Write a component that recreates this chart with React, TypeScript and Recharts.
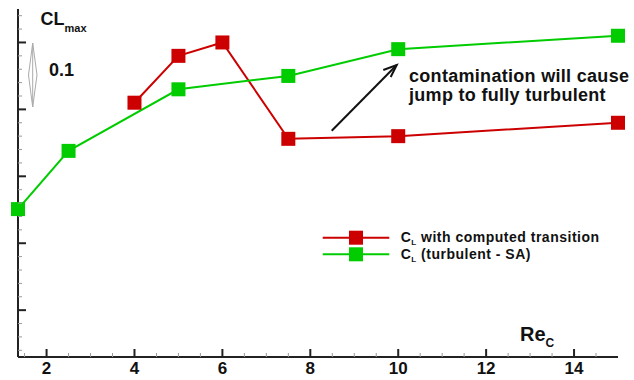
import React from "react";
import { LineChart, Line, XAxis, YAxis } from "recharts";

const transitionRe = [4, 5, 6, 7.5, 10, 15];
const transitionCl = [1.51, 1.58, 1.6, 1.456, 1.46, 1.48];
const turbulentRe = [1.35, 2.5, 5, 7.5, 10, 15];
const turbulentCl = [1.351, 1.438, 1.53, 1.55, 1.59, 1.61];

const xTicks = [
  1.5, 2, 2.5, 3, 3.5, 4, 4.5, 5, 5.5, 6, 6.5, 7, 7.5, 8, 8.5, 9, 9.5, 10,
  10.5, 11, 11.5, 12, 12.5, 13, 13.5, 14, 14.5,
];
const xLabels = [2, 4, 6, 8, 10, 12, 14];
const yTicks = [
  1.14, 1.16, 1.18, 1.2, 1.22, 1.24, 1.26, 1.28, 1.3, 1.32, 1.34, 1.36, 1.38,
  1.4, 1.42, 1.44, 1.46, 1.48, 1.5, 1.52, 1.54, 1.56, 1.58, 1.6, 1.62, 1.64,
];
const yMajor = [1.2, 1.3, 1.4, 1.5, 1.6];

const RED = "#cc0000";
const GREEN = "#00cc00";
const AXIS = "#222";
const FONT = "'Liberation Sans', Arial, sans-serif";

const transitionData = transitionRe.map((re, i) => ({ re, cl: transitionCl[i] }));
const turbulentData = turbulentRe.map((re, i) => ({ re, cl: turbulentCl[i] }));

function isMajor(list: number[], v: number) {
  return list.some((m) => Math.abs(m - v) < 1e-6);
}

function XTick(props: any) {
  const { x, y, payload } = props;
  const major = isMajor(xLabels, payload.value);
  return (
    <g>
      <line
        x1={x}
        x2={x}
        y1={y}
        y2={y - (major ? 8 : 4)}
        stroke={major ? AXIS : "#999"}
        strokeWidth={major ? 2 : 1}
      />
      {major && (
        <text
          x={x}
          y={y + 16.5}
          textAnchor="middle"
          fontFamily={FONT}
          fontWeight={700}
          fontSize={17}
          fill="#111"
        >
          {payload.value}
        </text>
      )}
    </g>
  );
}

function YTick(props: any) {
  const { x, y, payload } = props;
  const major = isMajor(yMajor, payload.value);
  return (
    <line
      x1={x}
      x2={x + (major ? 8 : 4)}
      y1={y}
      y2={y}
      stroke={major ? AXIS : "#999"}
      strokeWidth={major ? 2 : 1}
    />
  );
}

function squareDot(color: string) {
  return (p: any) => (
    <rect
      key={`${color}-${p.index}`}
      x={p.cx - 7}
      y={p.cy - 7}
      width={14}
      height={14}
      fill={color}
    />
  );
}

function Overlay() {
  return (
    <svg
      width={634}
      height={380}
      style={{ position: "absolute", left: 0, top: 0, pointerEvents: "none" }}
      fontFamily={FONT}
      fontWeight={700}
    >
      <text x={40.5} y={25} fontSize={18} fill="#111">
        CL<tspan fontSize={11} dy={7}>max</tspan>
      </text>
      <text x={49} y={76} fontSize={18} fill="#111">
        0.1
      </text>
      <g stroke="#aaa" strokeWidth={1} fill="none">
        <line x1={32.7} y1={43} x2={32.7} y2={107} />
        <polyline points="28.5,75 32.7,43 37,75" />
        <polyline points="28.5,75 32.7,107 37,75" />
      </g>

      <g stroke="#111" strokeWidth={2} fill="none">
        <line x1={331.7} y1={130.7} x2={396.7} y2={65} />
        <polyline points="383.3,70 396.7,65 390.7,77" />
      </g>
      <text x={409} y={82} fontSize={18} letterSpacing={0.3} fill="#111">
        contamination will cause
      </text>
      <text x={409} y={100.5} fontSize={18} letterSpacing={0.3} fill="#111">
        jump to fully turbulent
      </text>

      <line x1={322.7} y1={237.7} x2={389.3} y2={237.7} stroke={RED} strokeWidth={2} />
      <rect x={349} y={230.7} width={14} height={14} fill={RED} />
      <text x={400.7} y={242} fontSize={14} letterSpacing={0.5} fill="#111">
        C<tspan fontSize={8} dy={3}>L</tspan>
        <tspan dy={-3}> with computed transition</tspan>
      </text>
      <line x1={322.7} y1={254.3} x2={389.3} y2={254.3} stroke={GREEN} strokeWidth={2} />
      <rect x={349} y={247.3} width={14} height={14} fill={GREEN} />
      <text x={400.7} y={258.6} fontSize={14} letterSpacing={0.5} fill="#111">
        C<tspan fontSize={8} dy={3}>L</tspan>
        <tspan dy={-3}> (turbulent - SA)</tspan>
      </text>

      <text x={520} y={341} fontSize={20} fill="#111">
        Re<tspan fontSize={12} dy={6}>C</tspan>
      </text>
    </svg>
  );
}

export default function App() {
  return (
    <div style={{ position: "absolute", left: 0, top: 0, width: 634, height: 380, background: "#fff" }}>
      <LineChart
        width={634}
        height={380}
        margin={{ top: 9, right: 16, bottom: 0, left: 16 }}
      >
        <XAxis
          type="number"
          dataKey="re"
          domain={[1.35, 15]}
          ticks={xTicks}
          interval={0}
          height={23}
          tickSize={0}
          tickMargin={0}
          tickLine={false}
          axisLine={{ stroke: AXIS, strokeWidth: 2 }}
          tick={<XTick />}
        />
        <YAxis
          type="number"
          dataKey="cl"
          domain={[1.13, 1.65]}
          ticks={yTicks}
          interval={0}
          width={2}
          tickSize={0}
          tickMargin={0}
          tickLine={false}
          axisLine={{ stroke: AXIS, strokeWidth: 2 }}
          tick={<YTick />}
        />
        <Line
          data={transitionData}
          dataKey="cl"
          type="linear"
          stroke={RED}
          strokeWidth={2}
          dot={squareDot(RED)}
          activeDot={false}
          isAnimationActive={false}
        />
        <Line
          data={turbulentData}
          dataKey="cl"
          type="linear"
          stroke={GREEN}
          strokeWidth={2}
          dot={squareDot(GREEN)}
          activeDot={false}
          isAnimationActive={false}
        />
      </LineChart>
      <Overlay />
    </div>
  );
}
